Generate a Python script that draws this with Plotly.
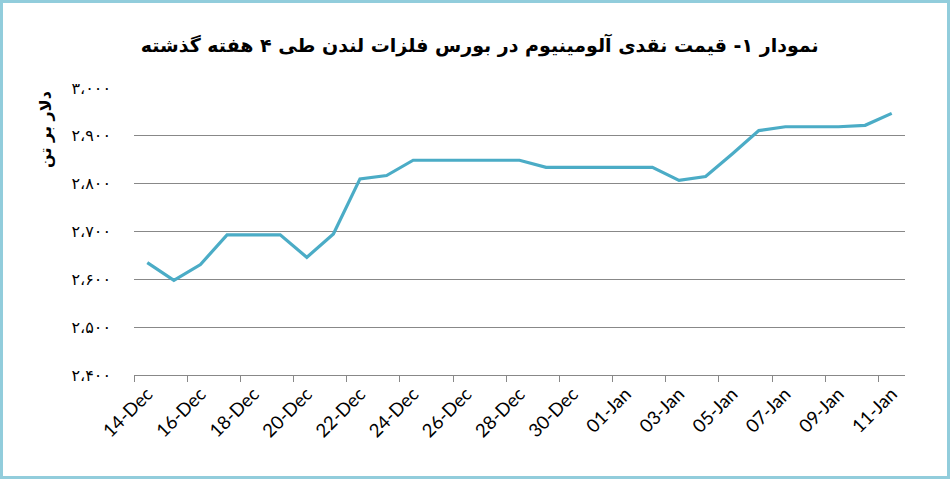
import plotly.graph_objects as go

dates = [
    "2016-12-14", "2016-12-15", "2016-12-16", "2016-12-17", "2016-12-18",
    "2016-12-19", "2016-12-20", "2016-12-21", "2016-12-22", "2016-12-23",
    "2016-12-24", "2016-12-25", "2016-12-26", "2016-12-27", "2016-12-28",
    "2016-12-29", "2016-12-30", "2016-12-31", "2017-01-01", "2017-01-02",
    "2017-01-03", "2017-01-04", "2017-01-05", "2017-01-06", "2017-01-07",
    "2017-01-08", "2017-01-09", "2017-01-10", "2017-01-11",
]
prices = [
    2635, 2598, 2631, 2693, 2693,
    2693, 2646, 2695, 2810, 2817,
    2849, 2849, 2849, 2849, 2849,
    2834, 2834, 2834, 2834, 2834,
    2807, 2815, 2862, 2911, 2919,
    2919, 2919, 2922, 2947,
]

y_tickvals = [2400, 2500, 2600, 2700, 2800, 2900, 3000]
y_ticktext = ["۲،۴۰۰", "۲،۵۰۰", "۲،۶۰۰", "۲،۷۰۰", "۲،۸۰۰", "۲،۹۰۰", "۳،۰۰۰"]

x_label_dates = dates[::2]
# tick marks on the day boundaries, half a day before each labelled date
x_tick_marks = ["2016-12-13", "2016-12-15", "2016-12-17", "2016-12-19",
                "2016-12-21", "2016-12-23", "2016-12-25", "2016-12-27",
                "2016-12-29", "2016-12-31", "2017-01-02", "2017-01-04",
                "2017-01-06", "2017-01-08", "2017-01-10"]

title = "نمودار ۱- قیمت نقدی آلومینیوم در بورس فلزات لندن طی ۴ هفته گذشته"
y_title = "دلار بر تن"

W, H = 950, 479
L, R, T, B = 134, 45, 88, 104

fig = go.Figure()
fig.add_trace(go.Scatter(
    x=dates, y=prices, mode="lines",
    line=dict(color="#4BACC6", width=3.2),
    hoverinfo="x+y",
))

fig.update_layout(
    width=W, height=H,
    margin=dict(l=L, r=R, t=T, b=B),
    paper_bgcolor="white", plot_bgcolor="white",
    showlegend=False,
    title=dict(text="<b>" + title + "</b>", x=0.505, xanchor="center",
               xref="container", y=1 - 45 / H, yanchor="middle",
               font=dict(family="DejaVu Sans", size=19, color="black")),
)

fig.update_xaxes(
    type="date",
    range=["2016-12-13 12:00", "2017-01-11 12:00"],
    tickmode="array", tickvals=x_label_dates,
    tickformat="%d-%b", tickangle=-45,
    ticks="", showgrid=False,
    showline=True, linecolor="#888888", linewidth=1,
    tickfont=dict(family="Lato", size=18.5, color="black"),
    minor=dict(tickmode="array",
               tickvals=[d + " 12:00" for d in x_tick_marks],
               ticks="outside", ticklen=6, tickcolor="#888888", showgrid=False),
    zeroline=False,
)

fig.update_yaxes(
    range=[2400, 3000],
    tickmode="array", tickvals=y_tickvals, ticktext=y_ticktext,
    showgrid=True, gridcolor="#888888", gridwidth=1,
    ticks="", ticklabelstandoff=22,
    tickfont=dict(family="DejaVu Sans", size=16, color="black"),
    zeroline=False, showline=False,
)

# axis title sits near the top of the value axis, as in the original
fig.add_annotation(
    text="<b>" + y_title + "</b>", textangle=-90,
    xref="paper", yref="paper",
    x=-(L - 45) / (W - L - R), y=1 - (130 - T) / (H - T - B),
    xanchor="center", yanchor="middle", showarrow=False,
    font=dict(family="DejaVu Sans", size=16, color="black"),
)

# light blue frame around the whole picture
pw = W - L - R
ph = H - T - B
fig.add_shape(
    type="rect", xref="paper", yref="paper",
    x0=-(L - 1.5) / pw, x1=1 + (R - 1.5) / pw,
    y0=-(B - 1.5) / ph, y1=1 + (T - 1.5) / ph,
    line=dict(color="#92CDDC", width=3), fillcolor="rgba(0,0,0,0)",
    layer="above",
)

fig.write_html("out.html", config={"displayModeBar": False},
               post_script="document.body.style.margin='0px';")
